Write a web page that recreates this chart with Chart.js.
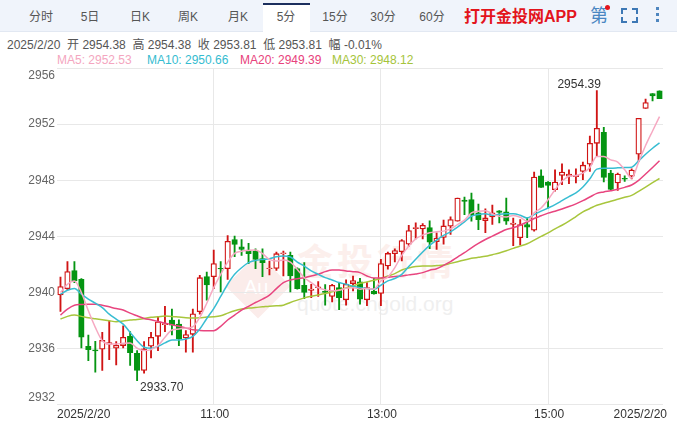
<!DOCTYPE html>
<html lang="zh">
<head>
<meta charset="utf-8">
<title>2025/2/20 5分</title>
<script src="https://cdn.jsdelivr.net/npm/chart.js@4"></script>
<style>
html,body{margin:0;padding:0;background:#fff;width:677px;height:421px;overflow:hidden;font-family:"Liberation Sans","Noto Sans CJK SC",sans-serif}
#wrap{position:relative;width:677px;height:421px;overflow:hidden}
#bar{position:absolute;left:0;top:0;width:677px;height:31px;background:#f0f4fb;border-bottom:1px solid #e2e8f2}
.tab{position:absolute;top:8px;height:18px;line-height:18px;font-size:12px;color:#555;transform:translateX(-50%);white-space:nowrap}
#active{position:absolute;left:263px;top:3px;width:47px;height:29px;background:#fff;border-top:2px solid #1c2f5e;box-sizing:border-box}
#app{position:absolute;left:464px;top:7px;font-size:16px;font-weight:bold;color:#e3141c;white-space:nowrap;line-height:20px}
#di{position:absolute;left:590px;top:5px;font-size:18px;color:#4a86c2;line-height:22px}
#dot{position:absolute;left:604.5px;top:4.5px;width:5px;height:5px;border-radius:50%;background:#e3141c}
.cn{position:absolute;width:4px;height:4px;border:solid #3d78b5;border-width:0}
.dt{position:absolute;left:656px;width:3px;height:3px;background:#4f86bf}
#info{position:absolute;left:7px;top:38px;font-size:12px;line-height:14px;color:#555;white-space:pre}
.ma{position:absolute;top:53px;font-size:12px;line-height:14px;white-space:pre}
#wm{position:absolute;left:0;top:0;width:677px;height:421px;pointer-events:none}
#dia{position:absolute;left:235px;top:263px;width:46px;height:46px;background:#fbecea;transform:rotate(45deg)}
#au{position:absolute;left:244px;top:276px;font-size:20px;color:#fff}
#jt{position:absolute;left:297px;top:241px;font-size:36px;font-weight:bold;color:#fcefec;white-space:nowrap;letter-spacing:4px;line-height:44px}
#url{position:absolute;left:297px;top:291px;font-size:21px;color:#efefef;white-space:nowrap;line-height:26px}
canvas{position:absolute;left:0;top:0}
</style>
</head>
<body>
<div id="wrap">
  <div id="bar"></div>
  <div id="active"></div>
  <div class="tab" style="left:41px">分时</div>
  <div class="tab" style="left:90px">5日</div>
  <div class="tab" style="left:140px">日K</div>
  <div class="tab" style="left:188px">周K</div>
  <div class="tab" style="left:238px">月K</div>
  <div class="tab" style="left:286px">5分</div>
  <div class="tab" style="left:335px">15分</div>
  <div class="tab" style="left:383px">30分</div>
  <div class="tab" style="left:432px">60分</div>
  <div id="app">打开金投网APP</div>
  <div id="di">第</div><div id="dot"></div>
  <div class="cn" style="left:621px;top:8px;border-width:2px 0 0 2px"></div>
  <div class="cn" style="left:632px;top:8px;border-width:2px 2px 0 0"></div>
  <div class="cn" style="left:621px;top:17px;border-width:0 0 2px 2px"></div>
  <div class="cn" style="left:632px;top:17px;border-width:0 2px 2px 0"></div>
  <div class="dt" style="top:7px"></div><div class="dt" style="top:13px"></div><div class="dt" style="top:19px"></div>
  <div id="info">2025/2/20  开 2954.38  高 2954.38  收 2953.81  低 2953.81  幅 -0.01%</div>
  <div class="ma" style="left:57px;color:#f4a6c0">MA5: 2952.53</div>
  <div class="ma" style="left:147px;color:#35bcd0">MA10: 2950.66</div>
  <div class="ma" style="left:240px;color:#e8427c">MA20: 2949.39</div>
  <div class="ma" style="left:332px;color:#a5c43a">MA30: 2948.12</div>
  <div id="wm">
    <div id="dia"></div><div id="au">Au</div>
    <div id="jt">金投行情</div>
    <div id="url">quote.cngold.org</div>
  </div>
  <canvas id="c" width="677" height="421"></canvas>
</div>
<script>
const opens = [2939.82,2940.27,2941.55,2940.93,2936.16,2935.90,2935.95,2936.30,2936.02,2936.21,2936.87,2935.66,2934.43,2936.16,2936.87,2937.70,2938.03,2937.74,2936.75,2937.01,2938.62,2941.12,
2941.12,2941.71,2941.69,2943.77,2943.25,2943.02,2942.94,2942.42,2941.70,2941.71,2942.76,2942.64,2941.69,2940.51,2940.15,2940.34,2940.08,2939.71,2940.34,2939.47,2940.63,
2940.75,2939.47,2940.09,2939.92,2941.88,2942.76,2942.90,2943.44,2944.55,2944.53,2944.63,2943.61,2943.92,2944.72,2945.07,2946.59,2946.61,2945.67,2945.12,2945.38,2945.81,2945.74,
2944.84,2943.90,2944.84,2944.44,2948.32,2947.87,2947.32,2948.34,2948.29,2948.25,2948.62,2949.14,2950.63,2951.41,2948.51,2947.80,2948.13,2948.29,2949.85,2953.12,2954.18,2954.38];
const highs = [2941.10,2942.19,2942.19,2940.98,2936.96,2936.51,2937.15,2937.98,2936.49,2937.62,2937.20,2935.85,2936.49,2937.15,2938.29,2939.00,2938.81,2938.05,2937.27,2938.81,2941.22,2941.45,
2943.02,2942.19,2944.06,2944.01,2943.77,2943.49,2943.11,2943.11,2942.23,2942.87,2942.94,2942.87,2941.76,2942.12,2940.58,2940.77,2940.56,2940.58,2940.70,2940.89,2941.17,
2941.01,2940.70,2941.01,2942.36,2942.88,2943.11,2943.77,2944.79,2944.96,2944.91,2945.10,2944.25,2945.15,2945.38,2946.73,2946.80,2947.08,2946.30,2945.95,2946.23,2945.83,2946.73,
2945.30,2945.20,2945.31,2948.58,2948.74,2947.91,2948.74,2949.17,2948.74,2948.81,2949.29,2951.15,2954.39,2951.77,2948.70,2948.51,2948.32,2948.81,2952.41,2953.78,2954.18,2954.38];
const lows = [2938.64,2940.18,2940.70,2936.04,2935.14,2934.31,2934.43,2935.21,2934.83,2936.04,2934.79,2933.70,2934.24,2935.33,2935.85,2937.20,2936.96,2936.21,2935.73,2935.73,2938.45,2939.44,
2940.27,2940.04,2940.93,2942.54,2942.64,2942.05,2941.69,2941.12,2941.24,2941.57,2941.17,2940.04,2940.23,2939.56,2939.63,2939.71,2939.09,2939.33,2938.76,2939.09,2940.11,
2939.16,2939.05,2939.87,2939.05,2941.65,2942.17,2942.24,2943.30,2943.82,2943.82,2943.11,2943.07,2943.44,2944.13,2945.07,2945.55,2945.07,2944.48,2944.25,2944.84,2944.96,2944.84,
2943.33,2943.38,2943.90,2944.37,2947.49,2946.02,2947.21,2947.68,2947.75,2947.80,2948.03,2948.62,2949.69,2947.87,2947.33,2947.28,2947.92,2948.10,2949.33,2953.12,2953.66,2953.81];
const closes = [2940.41,2941.48,2940.82,2936.80,2935.92,2935.83,2936.58,2936.42,2936.23,2936.80,2935.71,2934.43,2935.97,2936.80,2937.91,2937.77,2937.67,2936.68,2936.99,2938.48,2941.05,2940.53,
2942.05,2941.67,2943.65,2943.42,2943.06,2942.76,2942.35,2942.12,2941.74,2942.76,2942.83,2941.17,2940.27,2939.99,2940.23,2940.39,2939.99,2940.51,2939.63,2940.58,2940.84,
2939.52,2940.35,2939.90,2942.05,2942.78,2942.99,2943.70,2944.41,2944.63,2944.79,2943.59,2943.87,2944.74,2945.19,2946.73,2946.49,2945.52,2945.19,2945.31,2945.67,2945.71,2945.07,
2944.95,2944.84,2944.65,2948.22,2947.49,2947.63,2947.87,2948.58,2948.44,2948.36,2949.07,2950.63,2951.70,2948.20,2947.35,2948.44,2948.08,2948.72,2952.41,2953.54,2954.01,2953.81];
const ma5 = [2939.99,2940.58,2940.82,2939.99,2938.69,2937.51,2936.56,2936.32,2936.32,2936.37,2936.40,2936.02,2935.85,2935.92,2936.21,2936.80,2937.32,2937.39,2937.46,2937.55,2938.22,2939.23,
2940.34,2941.29,2942.16,2942.78,2942.94,2942.99,2943.02,2942.76,2942.35,2942.23,2942.31,2942.16,2941.64,2941.05,2940.70,2940.34,2940.18,2940.11,2940.15,2940.30,2940.34,2940.23,
2940.28,2940.23,2940.82,2941.10,2941.77,2942.64,2943.30,2943.82,2944.08,2944.25,2944.32,2944.37,2944.53,2944.84,2945.15,2945.67,2945.78,2945.83,2945.60,2945.43,2945.38,
2945.48,2945.36,2945.08,2945.67,2946.02,2946.61,2947.32,2947.92,2948.27,2948.34,2948.51,2948.91,2949.69,2949.69,2949.45,2949.29,2948.74,2948.15,2949.29,2950.47,2951.51,2952.53];
const ma10 = [2939.87,2940.15,2940.27,2939.87,2939.52,2939.23,2938.92,2938.45,2938.10,2937.74,2937.15,2936.56,2936.09,2936.02,2936.16,2936.40,2936.61,2936.61,2936.68,2936.87,2937.39,2938.14,
2938.85,2939.71,2940.58,2941.29,2941.76,2942.12,2942.28,2942.35,2942.40,2942.54,2942.59,2942.52,2942.16,2941.88,2941.53,2941.29,2941.05,2940.89,2940.70,2940.58,2940.44,2940.34,
2940.28,2940.23,2940.51,2940.82,2940.99,2941.29,2941.84,2942.36,2942.88,2943.35,2943.73,2944.06,2944.32,2944.65,2945.03,2945.43,2945.55,2945.60,2945.50,2945.57,2945.60,
2945.60,2945.50,2945.31,2945.55,2945.79,2946.02,2946.26,2946.54,2946.83,2947.09,2947.51,2948.10,2948.79,2948.86,2948.86,2948.88,2948.91,2948.93,2949.38,2949.85,2950.28,2950.66];
const ma20 = [2938.38,2938.81,2939.09,2939.14,2939.16,2939.16,2939.09,2938.97,2938.85,2938.74,2938.52,2938.33,2938.14,2938.05,2937.93,2937.81,2937.70,2937.58,2937.46,2937.34,2937.29,2937.27,
2937.27,2937.58,2938.03,2938.38,2938.74,2939.00,2939.28,2939.52,2939.80,2940.27,2940.70,2940.89,2940.98,2941.05,2941.17,2941.29,2941.48,2941.60,2941.60,2941.53,2941.48,2941.41,
2941.17,2941.03,2941.03,2941.08,2941.13,2941.17,2941.25,2941.32,2941.41,2941.58,2941.69,2941.93,2942.19,2942.52,2942.83,2943.18,2943.49,2943.77,2944.01,2944.25,2944.48,
2944.61,2944.79,2945.03,2945.27,2945.46,2945.65,2945.79,2945.95,2946.12,2946.31,2946.54,2946.80,2947.06,2947.16,2947.25,2947.35,2947.49,2947.66,2947.99,2948.44,2948.91,2949.39];
const ma30 = [2938.10,2938.29,2938.38,2938.29,2938.19,2938.12,2938.05,2937.98,2937.91,2937.96,2938.03,2938.07,2938.14,2938.22,2938.26,2938.31,2938.29,2938.24,2938.19,2938.17,2938.19,2938.24,
2938.26,2938.33,2938.52,2938.69,2938.81,2938.88,2938.93,2938.97,2939.02,2939.04,2939.09,2939.28,2939.45,2939.61,2939.73,2939.82,2939.92,2940.04,2940.18,2940.32,2940.46,2940.65,
2940.75,2940.87,2940.99,2941.17,2941.34,2941.60,2941.74,2941.84,2941.88,2941.88,2941.91,2941.95,2942.07,2942.19,2942.31,2942.43,2942.50,2942.57,2942.69,2942.81,2942.97,
2943.14,2943.31,2943.47,2943.73,2943.99,2944.25,2944.53,2944.79,2945.08,2945.41,2945.74,2945.98,2946.21,2946.35,2946.50,2946.64,2946.78,2946.92,2947.21,2947.51,2947.82,2948.12];
const timeLabels = {22:"11:00",46:"13:00",70:"15:00"};
const dateLabel = "2025/2/20";
const yTicks = [2932,2936,2940,2944,2948,2952,2956];
const highNote = "2954.39";
const lowNote = "2933.70";
const categories = opens.map((_,i)=> i);

const RED="#d01414", GREEN="#059512";
const isUp = i => closes[i] >= opens[i];
function maLine(data,color){
  return {type:'line',data,borderColor:color,borderWidth:1.5,pointRadius:0,tension:0.4,cubicInterpolationMode:'monotone',order:0,yAxisID:'y',xAxisID:'x'};
}
const notes = {
  id:'notes',
  afterDatasetsDraw(chart){
    const {ctx,scales:{x,y}}=chart;
    ctx.save();
    ctx.font='12px "Liberation Sans","Noto Sans CJK SC",sans-serif';
    ctx.fillStyle='#333';
    ctx.textBaseline='middle';
    const iH=highs.indexOf(Math.max(...highs)), iL=lows.indexOf(Math.min(...lows));
    ctx.textAlign='right';
    ctx.fillText(highNote,x.getPixelForValue(iH)+4,y.getPixelForValue(highs[iH])-6);
    ctx.textAlign='left';
    ctx.fillText(lowNote,x.getPixelForValue(iL)+3,y.getPixelForValue(lows[iL])+7);
    // first and last date labels sit flush with the plot edges
    const ly=415;
    ctx.textAlign='left';
    ctx.fillText(dateLabel,57,ly);
    ctx.textAlign='right';
    ctx.fillText(dateLabel,667,ly);
    ctx.restore();
  }
};
new Chart(document.getElementById('c'),{
  data:{
    labels:categories,
    datasets:[
      maLine(ma5,'#f6a9c2'),
      maLine(ma10,'#38bdd2'),
      maLine(ma20,'#e8457f'),
      maLine(ma30,'#a8c63d'),
      {type:'bar',data:categories.map(i=>[lows[i],highs[i]]),barThickness:1.2,grouped:false,
       backgroundColor:categories.map(i=>isUp(i)?RED:GREEN),borderWidth:0,order:3},
      {type:'bar',data:categories.map(i=>[opens[i],closes[i]]),barThickness:5.5,grouped:false,
       backgroundColor:categories.map(i=>isUp(i)?'#fff':GREEN),
       borderColor:categories.map(i=>isUp(i)?RED:GREEN),borderWidth:1.3,borderSkipped:false,order:2}
    ]
  },
  options:{
    responsive:false,animation:false,devicePixelRatio:1,
    layout:{padding:{left:0,right:14,top:68,bottom:0}},
    plugins:{legend:{display:false},tooltip:{enabled:false}},
    scales:{
      x:{
        type:'category',offset:true,
        border:{display:false},
        grid:{drawTicks:false,offset:false,color:c=>timeLabels[c.index]?'#e8e8e8':'rgba(0,0,0,0)'},
        ticks:{autoSkip:false,maxRotation:0,minRotation:0,padding:3,labelOffset:1,color:'#333',font:{size:12,family:'"Liberation Sans"'},
          callback:(v,i)=>timeLabels[i]||''},
        afterFit(s){s.height=15;}
      },
      y:{
        min:2932,max:2956,
        border:{display:false},
        afterBuildTicks(s){s.ticks=yTicks.map(value=>({value}));},
        grid:{drawTicks:false,color:'#e8e8e8'},
        ticks:{padding:2,color:'#666',font:{size:12,family:'"Liberation Sans"'},
          callback:v=>v===2956?['',String(v)]:v===2932?[String(v),'']:String(v)},
        afterFit(s){s.width=57;}
      }
    }
  },
  plugins:[notes]
});
</script>
</body>
</html>
